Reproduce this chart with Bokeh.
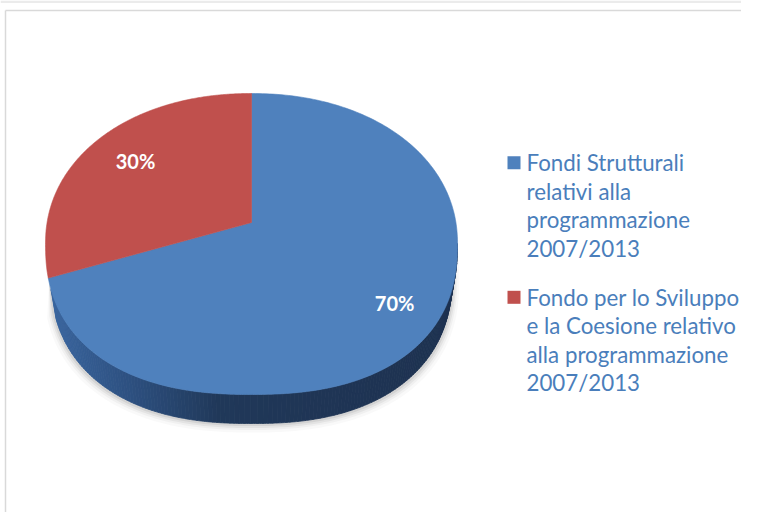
import numpy as np
from bokeh.plotting import figure
from bokeh.models import Range1d
from bokeh.core.properties import value
from bokeh.embed import file_html
from bokeh.resources import INLINE

# ---------------- data ----------------
categories = [
    "Fondi Strutturali relativi alla programmazione 2007/2013",
    "Fondo per lo Sviluppo e la Coesione relativo alla programmazione 2007/2013",
]
legend_lines = [
    ["Fondi Strutturali", "relativi alla", "programmazione", "2007/2013"],
    ["Fondo per lo Sviluppo", "e la Coesione relativo", "alla programmazione", "2007/2013"],
]
values = [70, 30]
pct_labels = ["70%", "30%"]
colors = ["#4F81BD", "#C0504D"]
wall_stops = [
    [(0.0, "#3A66A0"), (0.22, "#2C4E7D"), (0.42, "#203859"), (1.0, "#1D3150")],
    [(0.0, "#8E3B39"), (1.0, "#6E2D2B")],
]

# ---------------- figure ----------------
W, H = 741, 512
p = figure(width=W, height=H, x_range=Range1d(0, W), y_range=Range1d(H, 0),
           output_backend="svg", toolbar_location=None, min_border=0)
p.axis.visible = False
p.grid.visible = False
p.outline_line_color = None
p.background_fill_color = "white"
p.border_fill_color = "white"

# chart frame (light grey)
p.segment(x0=[0], y0=[1.2], x1=[W], y1=[1.2], line_color="#EBEBEB", line_width=2.5)
p.segment(x0=[5, 5], y0=[10, 10], x1=[5, W], y1=[H, 10],
          line_color="#D9D9D9", line_width=1.5)

# ---------------- pie geometry ----------------
CX, CY, A, BT, BB = 251, 243, 206, 150, 151
NT, NB = 2.1, 2.35
T = -0.14
DEPTH, SX = 29, 0.975
VX, VY = CX, CY + BT * T
WALL_LO, WALL_HI = np.pi / 2, 3 * np.pi / 2 - 0.25


def shape(psi, n_top, n_bot):
    s, c = np.sin(psi), -np.cos(psi)
    n = np.where(c < 0, n_top, n_bot)
    X = np.sign(s) * np.abs(s) ** (2 / n)
    Y = np.sign(c) * np.abs(c) ** (2 / n)
    return X, Y


def top_outline(psi):
    X, Y = shape(psi, NT, NB)
    b = np.where(Y < 0, BT, BB)
    return CX + A * X, CY + b * Y


def bottom_outline(psi, grow=0.0):
    X, Y = shape(psi, NT, NB)
    return CX + (SX * A + grow) * X, CY + DEPTH + grow + (BB + grow * 0.3) * Y


def to_psi(phi):
    u, v = np.sin(phi), -np.cos(phi)
    den = 1 + T * v
    X = np.sqrt(1 - T * T) * u / den
    Y = (v + T) / den
    return np.arctan2(X, -Y) % (2 * np.pi)


total = float(sum(values))
cum = np.concatenate([[0.0], np.cumsum(values)]) / total * 2 * np.pi
psi_b = [to_psi(ph) for ph in cum]
psi_b[0] = 0.0
psi_b[-1] = 2 * np.pi
psi_b = np.array(psi_b)


def hex2rgb(h):
    return np.array([int(h[i:i + 2], 16) for i in (1, 3, 5)], dtype=float)


def grad(stops, t):
    t = min(max(t, 0), 1)
    for (t0, c0), (t1, c1) in zip(stops[:-1], stops[1:]):
        if t0 <= t <= t1:
            f = (t - t0) / (t1 - t0) if t1 > t0 else 0
            rgb = hex2rgb(c0) * (1 - f) + hex2rgb(c1) * f
            return "#%02x%02x%02x" % tuple(int(round(v)) for v in rgb)
    return stops[-1][1]


# soft shadow below the pie
for k, al in [(7, 0.025), (5, 0.035), (3.5, 0.05), (2, 0.07)]:
    ps = np.linspace(WALL_LO - 0.05, WALL_HI + 0.05, 200)
    sx, sy = bottom_outline(ps, grow=k)
    tx, ty = top_outline(ps[::-1])
    p.patch(np.concatenate([sx, tx]), np.concatenate([sy, ty]),
            fill_color="#000000", fill_alpha=al, line_color=None)

# side walls with horizontal gradient
xs, ys, cs = [], [], []
NSTRIP = 160
edges = np.linspace(WALL_LO, WALL_HI, NSTRIP + 1)
for i in range(len(values)):
    lo, hi = psi_b[i], psi_b[i + 1]
    for a0, a1 in zip(edges[:-1], edges[1:]):
        s0, s1 = max(a0, lo), min(a1, hi)
        if s1 <= s0:
            continue
        pp = np.linspace(s0, s1, 4)
        tx, ty = top_outline(pp)
        bx, by = bottom_outline(pp[::-1])
        xs.append(np.concatenate([tx, bx]))
        ys.append(np.concatenate([ty, by]))
        xm = float(np.mean(tx))
        cs.append(grad(wall_stops[i], (xm - (CX - A)) / (2 * A)))
if xs:
    p.patches(xs, ys, fill_color=cs, line_color=cs, line_width=0.8)

# top faces
for i in range(len(values)):
    pp = np.linspace(psi_b[i], psi_b[i + 1], 300)
    tx, ty = top_outline(pp)
    p.patch(np.concatenate([[VX], tx]), np.concatenate([[VY], ty]),
            fill_color=colors[i], line_color=colors[i], line_width=0.6)

# percentage labels
lx, ly = [], []
label_frac = [0.78, 0.75]
for i in range(len(values)):
    mid = (cum[i] + cum[i + 1]) / 2
    ox, oy = top_outline(np.array([to_psi(mid)]))
    f = label_frac[i]
    lx.append(VX + f * (ox[0] - VX))
    ly.append(VY + f * (oy[0] - VY))
p.text(x=lx, y=ly, text=pct_labels, text_color="white", text_font=value("Lato"),
       text_font_style="bold", text_font_size="20px", text_align="center",
       text_baseline="middle")

# legend
LEG_X, SQ = 513.5, 13
first_mid = [162.0, 296.5]
LINE_H = 28.6
for i in range(len(values)):
    p.rect(x=[LEG_X], y=[first_mid[i] + 0.3], width=SQ, height=SQ,
           fill_color=colors[i], line_color=None)
    ty = [first_mid[i] + j * LINE_H for j in range(len(legend_lines[i]))]
    p.text(x=[526] * len(ty), y=ty, text=legend_lines[i], text_color="#4A7EBB",
           text_font=value("Lato"), text_font_size="22.3px", text_align="left",
           text_baseline="middle")

open("out.html", "w").write(file_html(p, INLINE))
